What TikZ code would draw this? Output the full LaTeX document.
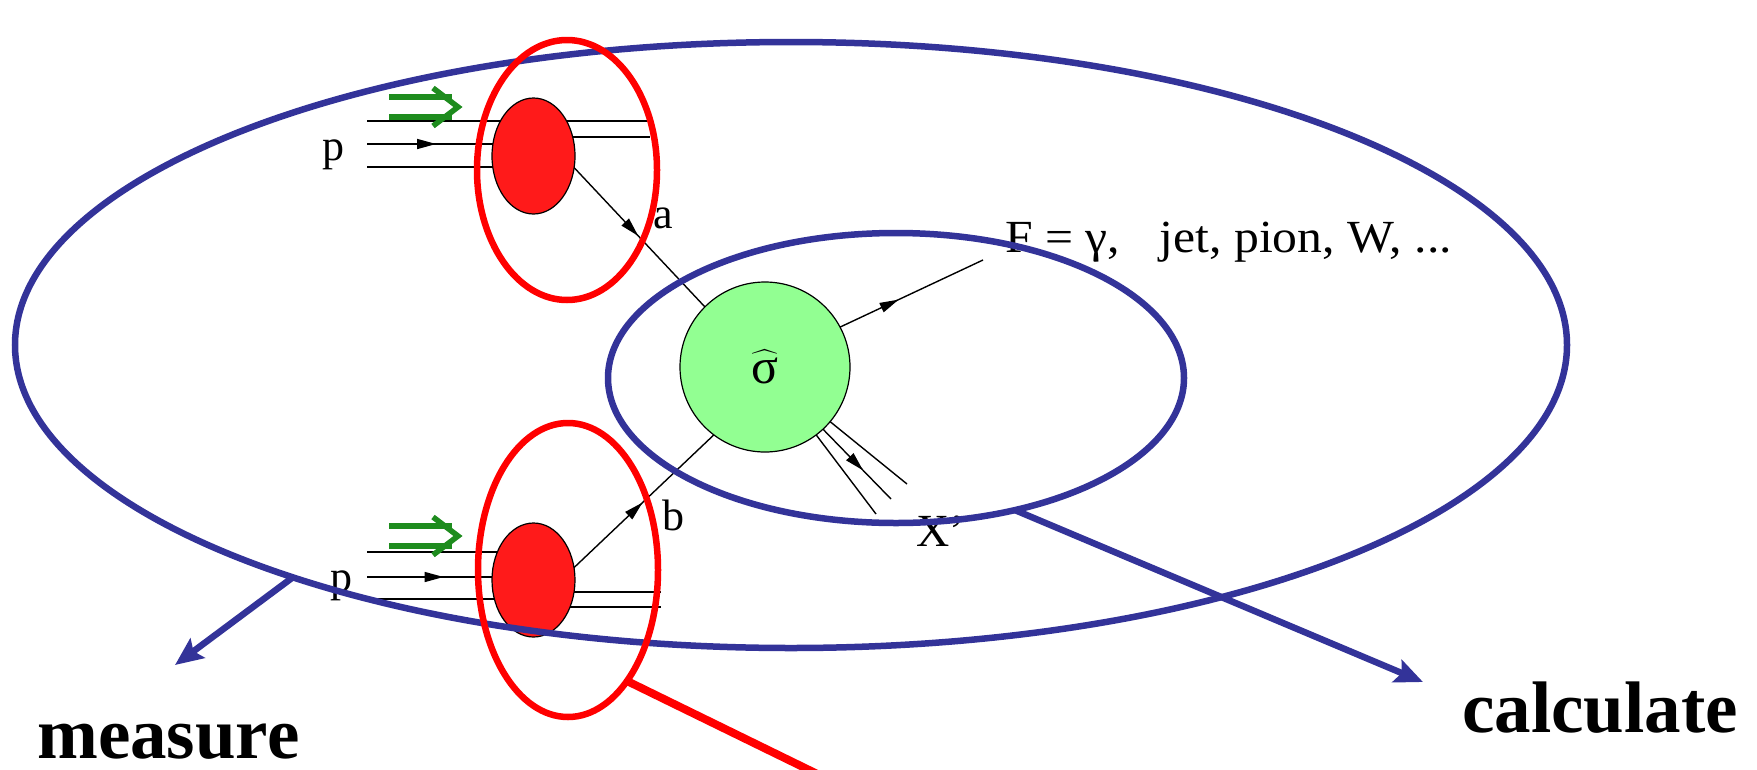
\documentclass[tikz,border=0pt]{standalone}
\usepackage{exscale}
\usepackage{fontspec}
\setmainfont{Liberation Serif}
\usetikzlibrary{shapes.geometric,arrows.meta,decorations.markings}
\pgfdeclarelayer{bg}
\pgfsetlayers{bg,main}
\definecolor{dblue}{RGB}{51,51,153}
\definecolor{blobred}{RGB}{255,26,26}
\definecolor{lgreen}{RGB}{146,255,146}
\definecolor{dgreen}{RGB}{30,140,30}
\tikzset{
  thinl/.style={line width=1.4pt, draw=black},
  midarrow/.style={postaction={decorate}, decoration={markings, mark=at position #1 with {\arrow{Triangle[length=19pt,width=10pt]}}}},
  blueell/.style={ellipse, draw=dblue, line width=6.5pt, inner sep=0pt, outer sep=0pt},
  redell/.style={ellipse, draw=red, line width=6.5pt, inner sep=0pt, outer sep=0pt},
  blob/.style={ellipse, draw=black, line width=1.2pt, fill=blobred, inner sep=0pt, outer sep=0pt},
  lbl/.style={font=\fontsize{44}{44}\selectfont, inner sep=0pt, anchor=base west},
  bigl/.style={font=\fontsize{73}{73}\selectfont\bfseries, inner sep=0pt, anchor=base west},
  bluearrow/.style={draw=dblue, line width=6.5pt, -{Stealth[length=28pt,width=24pt,inset=5pt]}},
  greenarr/.style={draw=dgreen, line width=5.5pt},
}
\begin{document}
\begin{tikzpicture}[x=1pt,y=-1pt]
\clip (0,0) rectangle (1757,769);
\begin{pgfonlayer}{bg}
\fill[white] (0,0) rectangle (1757,769);
\end{pgfonlayer}

% blobs and hard process
\node[blob, minimum width=83pt, minimum height=116pt] (blobtop) at (533.5,156) {};
\node[blob, minimum width=83pt, minimum height=114pt] (blobbot) at (533.5,580) {};
\node[circle, draw=black, line width=1.2pt, fill=lgreen, minimum size=170pt, inner sep=0pt, outer sep=0pt,
      font=\fontsize{50}{50}\selectfont] (hard) at (765,367) {$\widehat{\hbox{σ}}$};

% proton lines
\coordinate (tl1) at (367,121); \coordinate (tr1) at (650,121);
\coordinate (tl2) at (367,144);
\coordinate (tl3) at (367,167);
\coordinate (tr2) at (650,137);
\coordinate (bl1) at (367,552);
\coordinate (bl2) at (367,577);
\coordinate (bl3) at (373,599);
\coordinate (br1) at (661,592);
\coordinate (br2) at (661,607);
\begin{pgfonlayer}{bg}
\draw[thinl] (tl1) -- (tr1);
\draw[thinl, midarrow=0.415] (tl2) -- (tl2 -| blobtop.center);
\draw[thinl] (tl3) -- (tl3 -| blobtop.center);
\draw[thinl] (tr2 -| blobtop.center) -- (tr2);
\draw[thinl] (bl1) -- (bl1 -| blobbot.center);
\draw[thinl, midarrow=0.46] (bl2) -- (bl2 -| blobbot.center);
\draw[thinl] (bl3) -- (bl3 -| blobbot.center);
\draw[thinl] (br1 -| blobbot.center) -- (br1);
\draw[thinl] (br2 -| blobbot.center) -- (br2);
\end{pgfonlayer}

% partons and final state
\coordinate (fend) at (983,260);
\coordinate (x1) at (907,484);
\coordinate (x2) at (891,499);
\coordinate (x3) at (876,514);
\draw[thinl, midarrow=0.49] (blobtop.-16) -- (hard.135);
\draw[thinl, midarrow=0.49] (blobbot.17) -- (hard.233);
\draw[thinl, midarrow=0.41] (hard.28) -- (fend);
\draw[thinl] (hard.-40.7) -- (x1);
\draw[thinl, midarrow=0.59] (hard.-47) -- (x2);
\draw[thinl] (hard.-53.7) -- (x3);

% labels
\node[lbl] (pt) at (322,160) {p};
\node[lbl] (pb) at (330,591) {p};
\node[lbl] (la) at (653,228) {a};
\node[lbl] (lb) at (662,530) {b};
\node[lbl, font=\fontsize{46}{46}\selectfont] (lf) at (1005,252) {\scalebox{1.08}[1]{F = γ,\hspace{0.8em}jet, pion, W, ...}};
\node[lbl, font=\fontsize{46}{46}\selectfont] (lx) at (916,546) {X’};

% green double arrows
\draw[greenarr] (389,97) -- (452,97) (389,117) -- (452,117);
\draw[greenarr, line join=miter] (433,88) -- (458,107) -- (433,126);
\draw[greenarr] (389,526) -- (452,526) (389,546) -- (452,546);
\draw[greenarr, line join=miter] (433,517) -- (458,536) -- (433,555);

% blue ellipses
\node[blueell, minimum width=1552pt, minimum height=606pt] (outer) at (791,345) {};
\node[blueell, minimum width=576pt, minimum height=290pt] (inner) at (896,378) {};

% red ellipses
\node[redell, minimum width=180pt, minimum height=260pt] (redtop) at (567,170) {};
\node[redell, minimum width=180pt, minimum height=294pt] (redbot) at (568,570) {};
\coordinate (redend) at (850,790);
\draw[red, line width=8pt] (redbot.-62.4) -- (redend);

% measure / calculate
\coordinate (mtip) at (175,665);
\coordinate (ctip) at (1423,682);
\draw[bluearrow] (outer.205.9) -- (mtip);
\draw[bluearrow] (inner.-48.2) -- (ctip);
\node[bigl] (measure) at (37,758) {measure};
\node[bigl] (calc) at (1462,732) {calculate};
\end{tikzpicture}
\end{document}
